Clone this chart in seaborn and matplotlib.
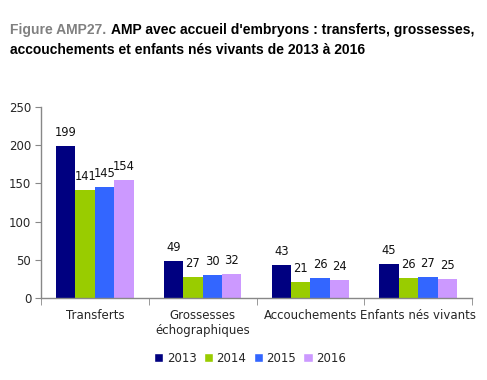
import numpy as np
import pandas as pd
import matplotlib.pyplot as plt
import seaborn as sns
from matplotlib.ticker import FixedLocator
from matplotlib.patches import Patch

categories = ["Transferts", "Grossesses\néchographiques", "Accouchements", "Enfants nés vivants"]
years = ["2013", "2014", "2015", "2016"]
values_2013 = [199, 49, 43, 45]
values_2014 = [141, 27, 21, 26]
values_2015 = [145, 30, 26, 27]
values_2016 = [154, 32, 24, 25]
colors = ["#000080", "#99cc00", "#3366ff", "#cc99ff"]

rows = []
for year, vals in zip(years, [values_2013, values_2014, values_2015, values_2016]):
    for cat, v in zip(categories, vals):
        rows.append({"categorie": cat, "annee": year, "valeur": v})
df = pd.DataFrame(rows)

sns.set_style("white")
plt.rcParams["font.family"] = ["DejaVu Sans"]

fig = plt.figure(figsize=(4.87, 3.8), dpi=100)
ax = fig.add_axes([41 / 487, 1 - 298 / 380, (472 - 41) / 487, (298 - 107) / 380])

sns.barplot(data=df, x="categorie", y="valeur", hue="annee", order=categories,
            hue_order=years, palette=colors, width=0.72, saturation=1,
            linewidth=0, legend=False, ax=ax)

for container in ax.containers:
    ax.bar_label(container, padding=5, fontsize=8.3, color="#111111")

ax.set_ylim(0, 250)
ax.set_yticks(range(0, 251, 50))
ax.set_xlim(-0.5, 3.5)
ax.set_xlabel("")
ax.set_ylabel("")
ax.tick_params(axis="y", labelsize=8.5, length=4, color="#888888", pad=3, left=True)
ax.tick_params(axis="x", which="major", length=0, labelsize=8.5, pad=8)
ax.xaxis.set_minor_locator(FixedLocator([-0.5, 0.5, 1.5, 2.5, 3.5]))
ax.tick_params(axis="x", which="minor", length=5, color="#888888", bottom=True)
for side in ["top", "right"]:
    ax.spines[side].set_visible(False)
for side in ["left", "bottom"]:
    ax.spines[side].set_color("#888888")
    ax.spines[side].set_linewidth(1)

handles = [Patch(facecolor=c, label=y) for c, y in zip(colors, years)]
fig.legend(handles=handles, loc="center", bbox_to_anchor=(250 / 487, 1 - 358 / 380),
           ncol=4, frameon=False, fontsize=8.5, handlelength=0.8, handleheight=0.8,
           handletextpad=0.3, columnspacing=0.6)

fig.text(10 / 487, 1 - 30 / 380, "Figure AMP27.", fontsize=10, fontweight="bold",
         color="#808080", family="Liberation Sans", va="center")
fig.text(111 / 487, 1 - 30 / 380, "AMP avec accueil d'embryons : transferts, grossesses,",
         fontsize=10, fontweight="bold", color="black", family="Liberation Sans", va="center")
fig.text(10 / 487, 1 - 50 / 380, "accouchements et enfants nés vivants de 2013 à 2016",
         fontsize=10, fontweight="bold", color="black", family="Liberation Sans", va="center")

fig.savefig("out.png", dpi=100)
